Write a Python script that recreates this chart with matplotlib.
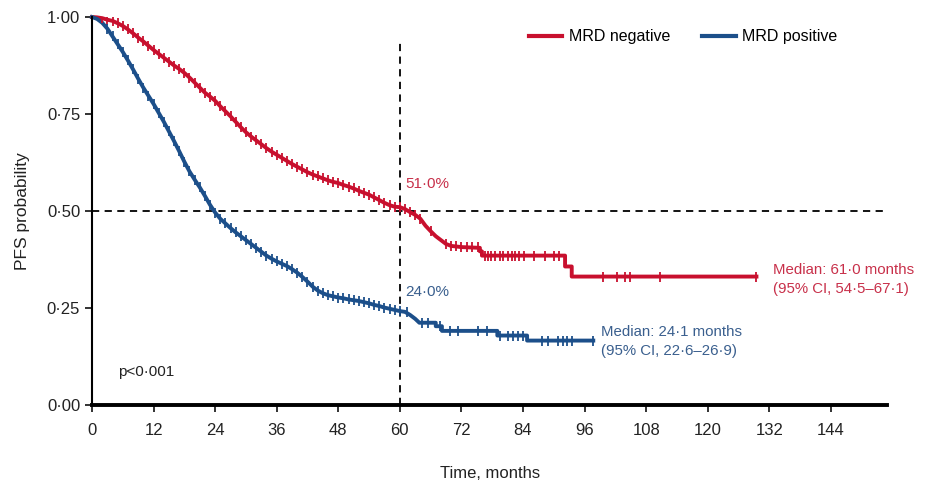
import numpy as np
import matplotlib
matplotlib.use("Agg")
import matplotlib.pyplot as plt

plt.rcParams['font.family'] = ['Liberation Sans', 'DejaVu Sans']

# Kaplan-Meier curves as vertices (months, PFS probability); repeated times are drops
neg_t = [0, 1, 2, 3, 4, 5, 6, 7, 8, 9, 10, 11, 12, 13, 14, 15, 16, 17, 18, 19, 20,
         21, 22, 23, 24, 25, 26, 27, 28, 29, 30, 31, 32, 33, 34, 35, 36, 37, 38, 39, 40,
         41, 42, 43, 44, 45, 46, 47, 48, 49, 50, 51, 52, 53, 54, 55, 56, 57, 58, 59, 60,
         61, 62, 63, 64, 65, 66, 67, 68, 69, 70, 72, 75.6, 75.6, 76, 76, 92.2, 92.2,
         93.5, 93.5, 129.5]
neg_s = [1.0, 0.999, 0.997, 0.993, 0.99, 0.984, 0.977, 0.968, 0.958, 0.947, 0.937,
         0.926, 0.915, 0.905, 0.895, 0.885, 0.875, 0.866, 0.856, 0.844, 0.831, 0.818,
         0.805, 0.795, 0.784, 0.77, 0.757, 0.744, 0.73, 0.716, 0.703, 0.692, 0.682,
         0.672, 0.662, 0.653, 0.645, 0.637, 0.629, 0.621, 0.614, 0.607, 0.6, 0.594,
         0.589, 0.584, 0.579, 0.575, 0.572, 0.567, 0.563, 0.558, 0.552, 0.547, 0.542,
         0.535, 0.528, 0.521, 0.515, 0.511, 0.51,
         0.505, 0.497, 0.49, 0.48, 0.462, 0.448, 0.435, 0.425, 0.415, 0.41, 0.407, 0.405,
         0.396, 0.396, 0.385, 0.385, 0.357, 0.357, 0.331, 0.331]

pos_t = [0, 1, 2, 3, 4, 5, 6, 7, 8, 9, 10, 11, 12, 13, 14, 15, 16, 17, 18, 19, 20,
         21, 22, 23, 24, 25, 26, 27, 28, 29, 30, 31, 32, 33, 34, 35, 36, 37, 38, 39, 40,
         41, 42, 43, 44, 45, 46, 47, 48, 49, 50, 51, 52, 53, 54, 55, 56, 57, 58, 59, 60,
         61, 62, 63, 63.8, 67, 67, 68.2, 68.2, 79, 79, 84.8, 84.8, 97.7]
pos_s = [1.0, 0.995, 0.985, 0.97, 0.95, 0.93, 0.91, 0.888, 0.865, 0.841, 0.818, 0.797,
         0.776, 0.753, 0.73, 0.705, 0.68, 0.654, 0.627, 0.602, 0.581, 0.561, 0.539, 0.516,
         0.496, 0.48, 0.468, 0.456, 0.445, 0.435, 0.425, 0.415, 0.405, 0.395, 0.385,
         0.377, 0.37, 0.364, 0.358, 0.35, 0.341, 0.33, 0.318, 0.305, 0.295, 0.288, 0.283,
         0.28, 0.277, 0.275, 0.272, 0.27, 0.268, 0.265, 0.262, 0.258, 0.255, 0.251, 0.248,
         0.245, 0.242,
         0.24, 0.232, 0.222, 0.212, 0.212, 0.203, 0.203, 0.191, 0.191, 0.179, 0.179, 0.166,
         0.166]

# censored observations (months)
neg_cens = list(range(2, 61)) + [61, 62, 63, 64, 66, 69, 70, 71, 72, 73, 74, 75.2,
            76.6, 77.2, 77.8, 78.5, 79.5, 80.2, 81, 81.8, 82.5, 83.3, 84.2, 86.2, 88.2,
            90, 91, 99.6, 102.3, 103.9, 104.9, 110.7, 129.5]
pos_cens = list(range(3, 61)) + [61.4, 64.3, 65.5, 67.8, 69.8, 71.3, 75.2, 77, 79.5,
            81.1, 82, 83, 84, 87.7, 88.9, 90.8, 91.8, 92.6, 93.6, 97.7]

red = '#C8102E'
blue = '#1C4F8A'


def value_at(times, surv, at):
    idx = np.searchsorted(times, at, side='right') - 1
    return np.array(surv)[idx]


fig = plt.figure(figsize=(9.33, 4.86), dpi=100)
ax = fig.add_axes([0.0986, 0.1667, 0.8524, 0.7983])

ax.axhline(0.5, color='black', lw=1.3, ls=(0, (4, 3)), zorder=1)
ax.plot([60, 60], [0, 0.94], color='black', lw=1.3, ls=(0, (4, 3)), zorder=1)

ax.plot(neg_t, neg_s, color=red, lw=2.8, label='MRD negative', clip_on=False)
ax.plot(pos_t, pos_s, color=blue, lw=2.8, label='MRD positive', clip_on=False)
ax.plot(neg_cens, value_at(neg_t, neg_s, neg_cens), ls='none', marker='|',
        ms=7, mew=1.3, color=red)
ax.plot(pos_cens, value_at(pos_t, pos_s, pos_cens), ls='none', marker='|',
        ms=7, mew=1.3, color=blue)

ax.set_xlim(0, 155)
ax.set_ylim(0, 1.0)
ax.set_xticks(np.arange(0, 145, 12))
ax.set_yticks([0, 0.25, 0.5, 0.75, 1.0])
ax.set_yticklabels(['0·00', '0·25', '0·50', '0·75', '1·00'])
ax.tick_params(labelsize=12, length=5, width=1.3, colors='#222222')
ax.tick_params(axis='x', pad=8)
for s in ['top', 'right']:
    ax.spines[s].set_visible(False)
ax.spines['left'].set_linewidth(1.5)
ax.spines['bottom'].set_linewidth(2.8)

ax.set_ylabel('PFS probability', fontsize=12.5, color='#222222', labelpad=12)
ax.set_xlabel('Time, months', fontsize=12, color='#222222', labelpad=20)

ax.text(61, 0.56, '51·0%', color='#C8304A', fontsize=11)
ax.text(61, 0.28, '24·0%', color='#3A5F8E', fontsize=11)
ax.text(132.7, 0.323, 'Median: 61·0 months\n(95% CI, 54·5–67·1)', color='#C8304A',
        fontsize=10.8, va='center', linespacing=1.5)
ax.text(99.3, 0.163, 'Median: 24·1 months\n(95% CI, 22·6–26·9)', color='#3A5F8E',
        fontsize=10.8, va='center', linespacing=1.5)
ax.text(5, 0.085, 'p<0·001', color='#222222', fontsize=11, va='center')

ax.legend(loc='upper right', bbox_to_anchor=(0.945, 0.985), ncol=2, frameon=False,
          fontsize=11.5, handlelength=2.1, columnspacing=2.0, handletextpad=0.4,
          borderaxespad=0)
for line in ax.get_legend().get_lines():
    line.set_linewidth(3)

fig.savefig('out.png', dpi=100)
